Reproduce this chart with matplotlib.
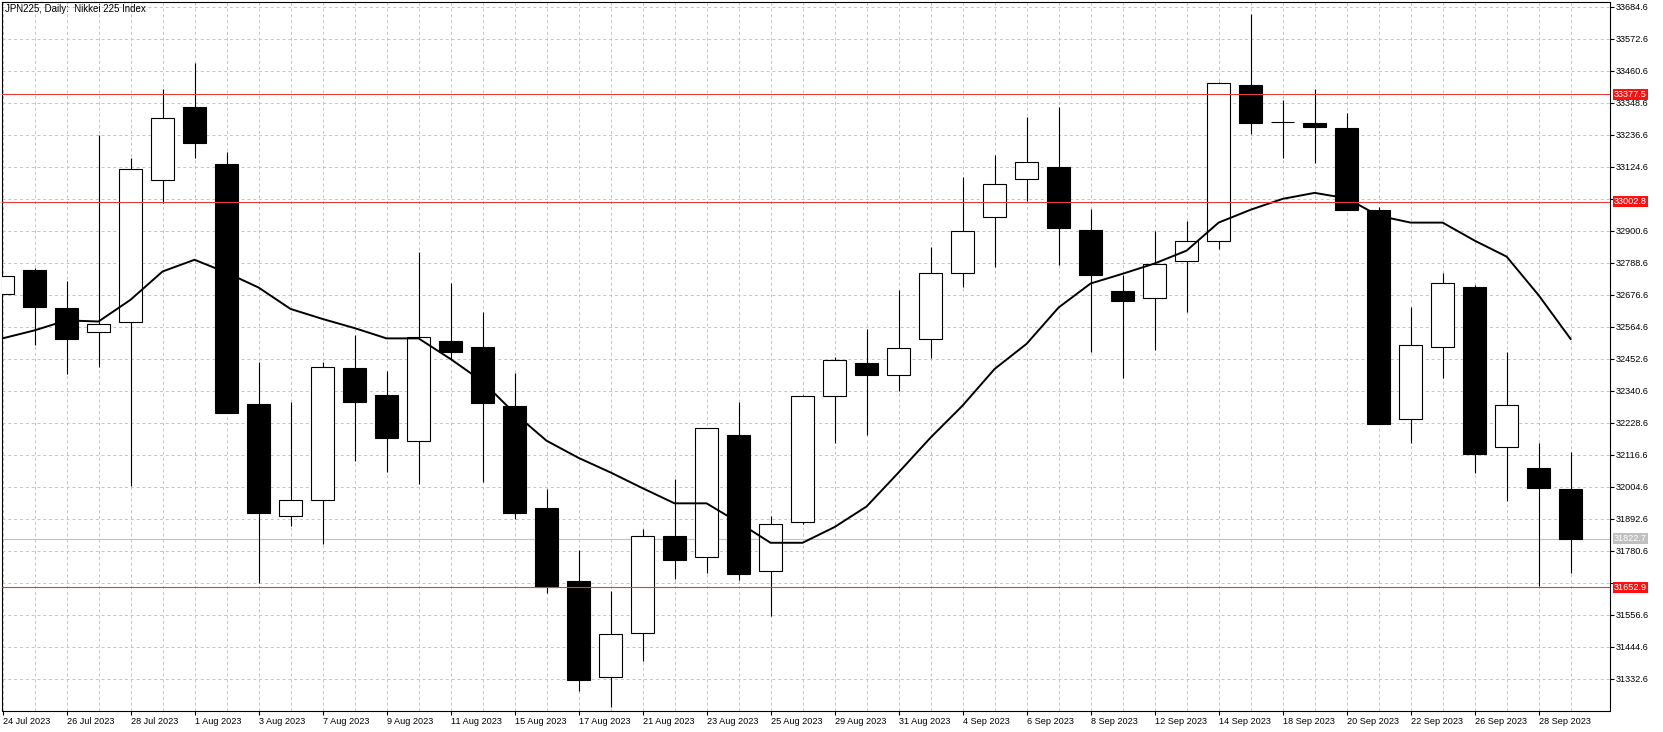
import numpy as np
import pandas as pd
import matplotlib
matplotlib.use('Agg')
import matplotlib.pyplot as plt
import matplotlib.transforms as mtransforms

# JPN225 daily candles, 24 Jul 2023 - 29 Sep 2023
dates = pd.bdate_range('2023-07-24', '2023-09-29')

opens = [32678, 32762, 32630, 32545, 32583, 33077, 33333, 33134, 32294, 31904,
         31960, 32421, 32325, 32165, 32514, 32494, 32287, 31930, 31674, 31340,
         31494, 31833, 31761, 32185, 31712, 31880, 32321, 32437, 32397, 32521,
         32751, 32947, 33083, 33123, 32902, 32689, 32664, 32793, 32863, 33411,
         33282, 33276, 33260, 32974, 32241, 32495, 32704, 32143, 32069, 31996]
highs = [32743, 32770, 32723, 33234, 33155, 33398, 33486, 33176, 32441, 32301,
         32441, 32537, 32410, 32826, 32718, 32616, 32402, 31996, 31785, 31639,
         31856, 32031, 32209, 32301, 31901, 32325, 32460, 32556, 32694, 32842,
         33088, 33165, 33298, 33333, 32977, 32747, 32898, 32934, 33422, 33657,
         33358, 33398, 33311, 32985, 32635, 32754, 32710, 32476, 32158, 32127]
lows = [32678, 32500, 32398, 32424, 32007, 32998, 33155, 32263, 31670, 31869,
        31804, 32096, 32055, 32015, 32452, 32023, 31893, 31634, 31292, 31236,
        31395, 31682, 31702, 31678, 31553, 31875, 32158, 32185, 32341, 32456,
        32704, 32774, 33006, 32781, 32476, 32386, 32483, 32616, 32837, 33239,
        33155, 33136, 32974, 32225, 32158, 32387, 32052, 31955, 31658, 31702]
closes = [32743, 32634, 32521, 32576, 33117, 33296, 33209, 32263, 31912, 31957,
          32424, 32303, 32174, 32530, 32478, 32298, 31912, 31656, 31329, 31491,
          31831, 31750, 32209, 31701, 31875, 32321, 32449, 32397, 32492, 32751,
          32898, 33063, 33142, 32909, 32745, 32656, 32785, 32866, 33416, 33276,
          33282, 33263, 32974, 32225, 32502, 32716, 32120, 32290, 32001, 31822.7]

# moving average line
ma = [32524, 32552, 32587, 32583, 32659, 32758, 32799, 32754, 32702, 32627,
      32592, 32560, 32524, 32524, 32452, 32373, 32262, 32166, 32106, 32055,
      32000, 31947, 31947, 31880, 31809, 31809, 31864, 31936, 32055, 32177,
      32289, 32417, 32505, 32632, 32716, 32750, 32786, 32831, 32929, 32974,
      33012, 33033, 33014, 32953, 32929, 32929, 32866, 32810, 32675, 32522]

# horizontal levels
red_levels = [33377.5, 33002.8, 31652.9]
bid_level = 31822.7

title = 'JPN225, Daily:  Nikkei 225 Index'
y_ticks = [33684.6 - 112 * k for k in range(22)]

fig = plt.figure(figsize=(16.63, 7.32), dpi=100)
W, H = 1663, 732
ax = fig.add_axes([2 / W, 1 - 710.5 / H, (1610 - 2) / W, (710.5 - 2) / H])

x = np.arange(len(dates))
o = np.array(opens, dtype=float)
c = np.array(closes, dtype=float)
hi = np.array(highs, dtype=float)
lo = np.array(lows, dtype=float)
up = c >= o

# wicks
ax.vlines(x, lo, hi, color='black', linewidth=0.8, zorder=2)
# bodies
ax.bar(x, np.abs(c - o), bottom=np.minimum(o, c), width=0.7,
       color=np.where(up, 'white', 'black'), edgecolor='black',
       linewidth=0.8, zorder=3)

# moving average
ax.plot(x, ma, color='black', linewidth=1.4, zorder=4)

# levels
for lv in red_levels:
    ax.axhline(lv, color='#e83c3c', linewidth=0.8, zorder=5)
ax.axhline(bid_level, color='#c0c0c0', linewidth=0.8, zorder=1.5)

trans = mtransforms.blended_transform_factory(ax.transAxes, ax.transData)
for lv in red_levels:
    ax.text(1.0 + 4 / 1608, lv, f'{lv:.1f}', transform=trans, fontsize=6.6,
            family='Liberation Sans', color='white', va='center', ha='left',
            bbox=dict(boxstyle='square,pad=0.12', fc='#ff1010', ec='none'),
            zorder=10, clip_on=False)
ax.text(1.0 + 4 / 1608, bid_level, f'{bid_level:.1f}', transform=trans,
        fontsize=6.6, family='Liberation Sans', color='white', va='center',
        ha='left', bbox=dict(boxstyle='square,pad=0.12', fc='#c0c0c0', ec='none'),
        zorder=10, clip_on=False)

# axes
ax.set_xlim(-0.016, 50.23)
ax.set_ylim(31222.3, 33700.7)

# tick labels that sit under a level tag are hidden, as on the terminal
hidden = [v for v in y_ticks if any(abs(v - lv) < 20 for lv in red_levels)]
ax.yaxis.tick_right()
ax.set_yticks(y_ticks)
ax.set_yticklabels(['' if v in hidden else f'{v:.1f}' for v in y_ticks])
ax.set_xticks(x[::2])
ax.set_xticklabels([f'{d.day} {d.strftime("%b %Y")}' for d in dates[::2]])
ax.set_xticks(x, minor=True)
for lab in ax.get_xticklabels():
    lab.set_horizontalalignment('left')
    lab.set_family('Liberation Sans')
for lab in ax.get_yticklabels():
    lab.set_family('Liberation Sans')

ax.tick_params(axis='x', which='major', length=3, width=0.8, pad=1.5,
               labelsize=6.6, direction='out')
ax.tick_params(axis='x', which='minor', length=0)
ax.tick_params(axis='y', length=3, width=0.8, pad=0.8, labelsize=6.6,
               direction='out')

ax.grid(True, which='both', axis='x', color='#c4c4c4', linestyle=(0, (3, 3)),
        linewidth=0.7)
ax.grid(True, which='major', axis='y', color='#c4c4c4', linestyle=(0, (3, 3)),
        linewidth=0.7)
ax.set_axisbelow(True)

for s in ax.spines.values():
    s.set_linewidth(0.8)
    s.set_color('black')

ax.text(0.002, 0.997, title, transform=ax.transAxes, fontsize=7,
        family='Liberation Sans', va='top', ha='left', zorder=10)

fig.savefig('out.png', dpi=100)
